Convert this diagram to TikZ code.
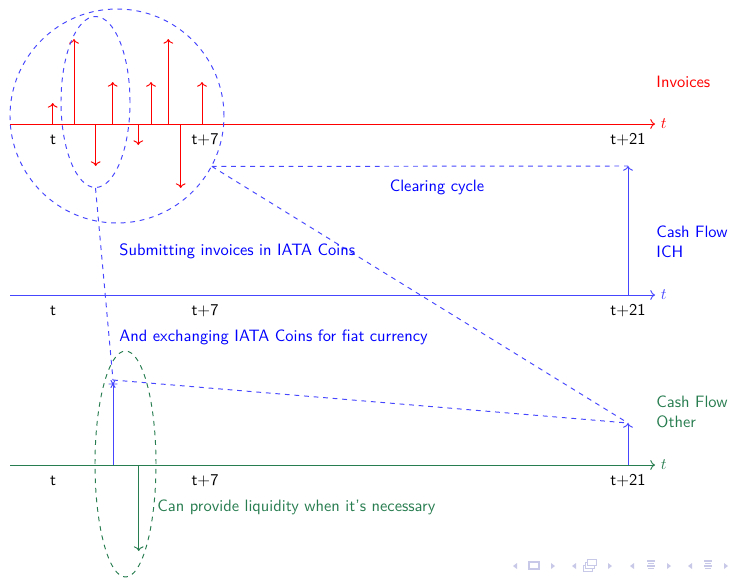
\documentclass[tikz,border=0pt]{standalone}
\usetikzlibrary{arrows.meta,shapes.geometric}
\definecolor{flowgreen}{RGB}{40,125,80}
\definecolor{lineblue}{RGB}{70,70,255}
\definecolor{navblue}{RGB}{200,200,232}

\begin{document}
\begin{tikzpicture}[
      x=0.022cm, y=-0.022cm,
      line width=0.6pt,
      every node/.style={font=\sffamily\fontsize{10.3}{12.5}\selectfont},
      lbl/.style={anchor=west, inner sep=0pt, align=left},
      tick/.style={inner sep=0pt, text=black},
      spike/.style={red, ->},
      zone/.style={draw, dashed, inner sep=0pt},
      link/.style={lineblue, dashed},
      navtip/.style={fill=navblue, draw=none}
    ]
    \useasboundingbox (0,0) rectangle (729,578);

    % EJES
    \foreach \y/\c/\n in {124/red/inv, 295/lineblue/ich, 465/flowgreen/oth} {
      \draw[\c, ->] (10,\y) -- (655,\y) node[right, text=\c] (ax-\n) {$t$};
      \node[tick] (t0-\n) at (53,\y+16) {t};
      \node[tick] (t7-\n) at (205,\y+16) {t+7};
      \node[tick] (t21-\n) at (628,\y+16) {t+21};
    }

    % FACTURAS
    \foreach \x/\e in {52.7/103, 74/39, 95.7/166, 112.7/82, 138.3/145, 151/82, 168.3/39, 180.7/188, 202/82}
      \draw[spike] (\x,124) -- (\x,\e);

    % ZONAS
    \node[zone, lineblue, circle, minimum size={214*0.022cm}] (week) at (117,116) {};
    \node[zone, lineblue, ellipse, minimum width={69*0.022cm}, minimum height={171*0.022cm}] (subm) at (95.5,102) {};
    \node[zone, flowgreen, ellipse, minimum width={61*0.022cm}, minimum height={226*0.022cm}] (liq) at (125.5,464) {};

    % PUNTOS
    \coordinate (ichbase) at (628,295);
    \coordinate (ichtop) at (628,166);
    \coordinate (othbase) at (628,465);
    \coordinate (othtop) at (628,423);
    \coordinate (xchbase) at (113,465);
    \coordinate (xch) at (113,380);
    \coordinate (liqbase) at (138.7,465);
    \coordinate (liqend) at (138.7,551);

    % FLUJOS
    \draw[lineblue, ->] (ichbase) -- (ichtop);
    \draw[lineblue, ->] (othbase) -- (othtop);
    \draw[lineblue, -{Rays[n=6]}] (xchbase) -- (xch);
    \draw[flowgreen, ->] (liqbase) -- (liqend);

    \draw[link] (week.-28) -- (ichtop);
    \draw[link] (week.-28) -- (othtop);
    \draw[link] (xch) -- (othtop);
    \draw[link] (subm.south) -- (xch);

    % TEXTOS
    \node[red, lbl] (invlbl) at (656,82) {Invoices};
    \node[blue, lbl] (ichlbl) at (656,242) {Cash Flow\\ICH};
    \node[flowgreen, lbl] (othlbl) at (656,412) {Cash Flow\\Other};
    \node[blue] (clr) at (437,187) {Clearing cycle};
    \node[blue, lbl] (subtxt) at (119,251) {Submitting invoices in IATA Coins};
    \node[blue, lbl] (xchtxt) at (119,337) {And exchanging IATA Coins for fiat currency};
    \node[flowgreen, lbl] (liqtxt) at (157,507) {Can provide liquidity when it’s necessary};

    % NAVEGACION
    \foreach \x in {515,574,632,690}
      \fill[navtip] (\x+2,563) -- (\x-2,566) -- (\x+2,569) -- cycle;
    \foreach \x in {553,610,669,726}
      \fill[navtip] (\x-2,563) -- (\x+2,566) -- (\x-2,569) -- cycle;
    \draw[navblue, thick] (529,562) rectangle (539,569);
    \foreach \d in {0,2,4}
      \draw[navblue, fill=white] (583+\d,571-\d*1.5) rectangle (592+\d,565-\d*1.5);
    \foreach \x in {651,708}
      \foreach \d/\w in {0/4,2.5/3,5/4,7.5/3}
        \draw[navblue, thick] (\x-\w,561+\d) -- (\x+\w,561+\d);
  \end{tikzpicture}
\end{document}
